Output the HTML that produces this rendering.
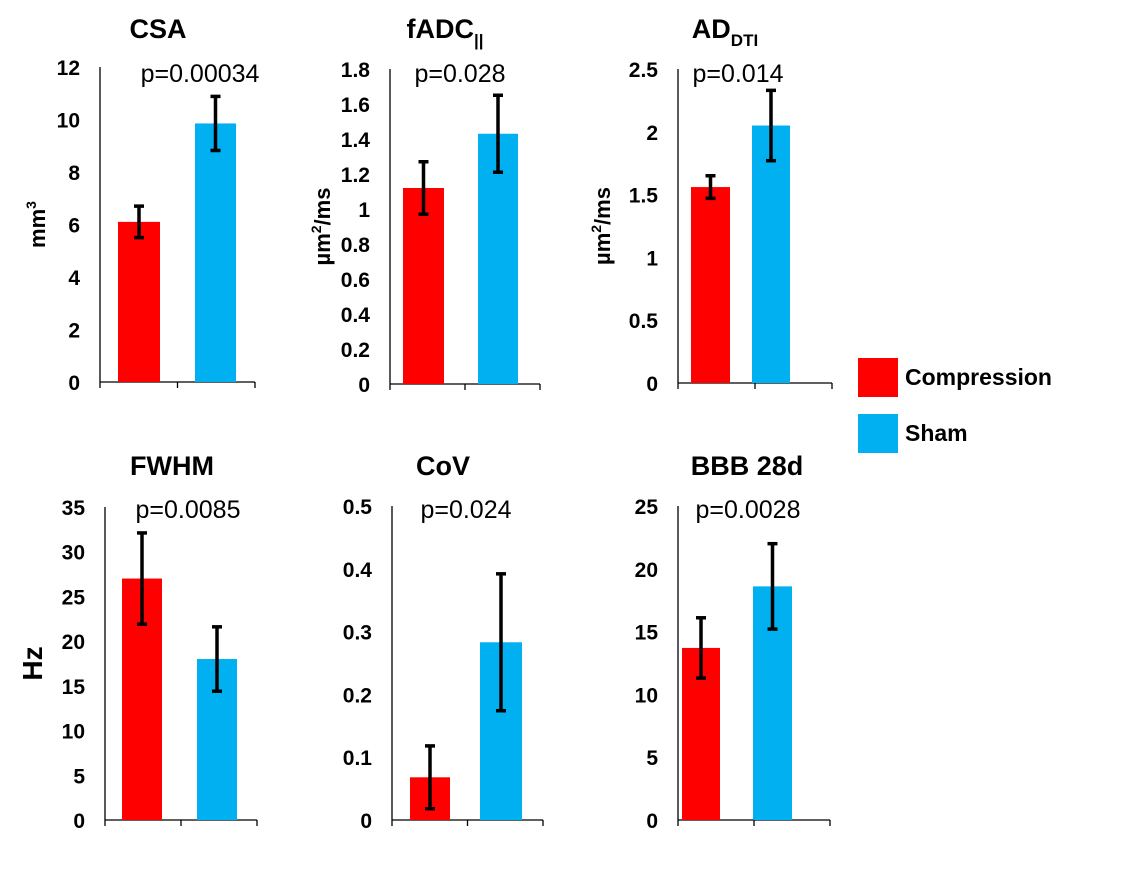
<!DOCTYPE html>
<html><head><meta charset="utf-8">
<style>
body{margin:0;background:#fff;width:1123px;height:872px;overflow:hidden;font-family:"Liberation Sans",Arial,sans-serif}
svg{display:block}
</style></head>
<body>
<svg id="chart" width="1123" height="872" xmlns="http://www.w3.org/2000/svg"></svg>
<script>
const panelTitles = ["CSA","fADC","AD","FWHM","CoV","BBB 28d"];
const panelSubs = ["", "||", "DTI", "", "", ""];
const pValues = ["p=0.00034","p=0.028","p=0.014","p=0.0085","p=0.024","p=0.0028"];
const yMax = [12,1.8,2.5,35,0.5,25];
const yStep = [2,0.2,0.5,5,0.1,5];
const compressionVals = [6.1,1.12,1.56,27,0.068,13.7];
const compressionErr = [0.6,0.15,0.09,5.1,0.05,2.4];
const shamVals = [9.85,1.43,2.05,18,0.283,18.6];
const shamErr = [1.03,0.22,0.28,3.6,0.109,3.4];
const yUnits = ["mm3","µm2/ms","µm2/ms","Hz","",""];

const layout = [
 {ax:100,bot:382,top:67,end:255,r:[118,160],b:[195,236],tx:158,ty:38,px:200,py:82,ux:45},
 {ax:390,bot:384,top:69,end:540,r:[403,444],b:[478,518],tx:445,ty:38,px:460,py:82,ux:330},
 {ax:678,bot:383,top:69,end:832,r:[691,730],b:[752,790],tx:725,ty:38,px:738,py:82,ux:610},
 {ax:105,bot:820,top:507,end:257,r:[122,162],b:[197,237],tx:172,ty:475,px:188,py:518,ux:42},
 {ax:392,bot:820,top:506,end:543,r:[410,450],b:[480,522],tx:443,ty:475,px:466,py:518,ux:0},
 {ax:678,bot:820,top:506,end:830,r:[682,720],b:[753,792],tx:747,ty:475,px:748,py:518,ux:0}
];
const NS="http://www.w3.org/2000/svg";
const svg=document.getElementById('chart');
function mk(tag,attrs,parent){const e=document.createElementNS(NS,tag);for(const k in attrs)e.setAttribute(k,attrs[k]);(parent||svg).appendChild(e);return e;}

for(let i=0;i<6;i++){
  const L=layout[i];
  const g=mk('g',{});
  
  
  const y=v=>L.bot-(v/yMax[i])*(L.bot-L.top);
  const ya=mk('line',{x1:L.ax,y1:L.top,x2:L.ax,y2:L.bot,stroke:'#000','stroke-width':1.3},g);
  
  
  const xa=mk('line',{x1:L.ax,y1:L.bot,x2:L.end,y2:L.bot,stroke:'#000','stroke-width':1.3},g);
  
  
  const mid=(L.ax+L.end)/2;
  [L.ax,mid,L.end].forEach(x=>mk('line',{x1:x,y1:L.bot,x2:x,y2:L.bot+6,stroke:'#000','stroke-width':1.3},g));
  const n=Math.round(yMax[i]/yStep[i]);
  for(let k=0;k<=n;k++){
    const v=k*yStep[i];
    const t=mk('text',{x:L.ax-20,y:y(v)+8,'text-anchor':'end','font-size':21,'font-weight':'bold'},g);
    t.textContent=String(+v.toFixed(2));
    
    
  }
  [[compressionVals,compressionErr,L.r,'#ff0000','compression'],[shamVals,shamErr,L.b,'#00b0f0','sham']].forEach(s=>{
    const v=s[0][i],e=s[1][i],xr=s[2];
    const r=mk('rect',{x:xr[0],y:y(v),width:xr[1]-xr[0],height:L.bot-y(v),fill:s[3]},g);
    
    
    const cx=(xr[0]+xr[1])/2;
    const eg=mk('g',{stroke:'#000','stroke-width':3.5},g);
    
    
    mk('line',{x1:cx,y1:y(v-e),x2:cx,y2:y(v+e)},eg);
    mk('line',{x1:cx-5,y1:y(v-e),x2:cx+5,y2:y(v-e)},eg);
    mk('line',{x1:cx-5,y1:y(v+e),x2:cx+5,y2:y(v+e)},eg);
  });
  const t=mk('text',{x:L.tx,y:L.ty,'text-anchor':'middle','font-size':27,'font-weight':'bold'},g);
  t.textContent=panelTitles[i];
  if(panelSubs[i]){const ts=mk('tspan',{'font-size':17,dy:8},t);ts.textContent=panelSubs[i];}
  
  
  const p=mk('text',{x:L.px,y:L.py,'text-anchor':'middle','font-size':25},g);
  p.textContent=pValues[i];
  
  
  if(yUnits[i]){
    const cy=(L.top+L.bot)/2;
    const u=mk('text',{x:L.ux,y:cy,'text-anchor':'middle','font-size':i===3?28:22,'font-weight':'bold',transform:`rotate(-90 ${L.ux} ${cy})`},g);
    
    
    if(yUnits[i]==='mm3'){u.textContent='mm';const s=mk('tspan',{'font-size':14,dy:-9},u);s.textContent='3';}
    else if(yUnits[i]==='µm2/ms'){u.textContent='µm';const s=mk('tspan',{'font-size':14,dy:-9},u);s.textContent='2';const s2=mk('tspan',{dy:9},u);s2.textContent='/ms';}
    else u.textContent=yUnits[i];
  }
}
const lg=mk('g',{});


[['Compression','#ff0000',358],['Sham','#00b0f0',414]].forEach(e=>{
  const r=mk('rect',{x:858,y:e[2],width:40,height:39,fill:e[1]},lg);
  
  
  const t=mk('text',{x:905,y:e[2]+27,'font-size':23,'font-weight':'bold'},lg);
  t.textContent=e[0];
  
  
});
</script>
</body></html>
